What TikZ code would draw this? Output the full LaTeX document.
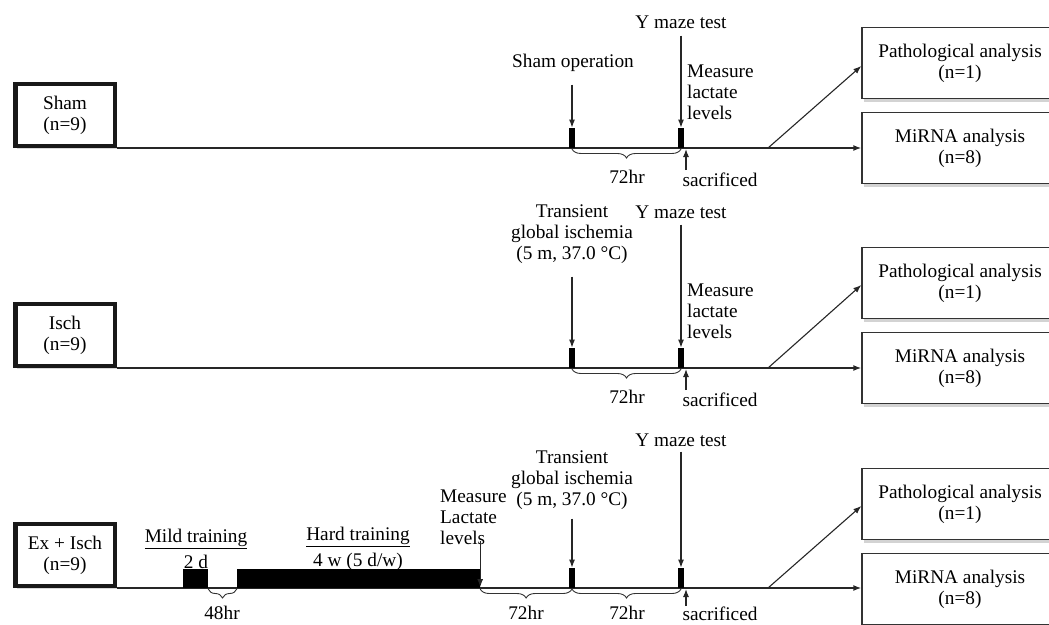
\documentclass[tikz,border=0pt]{standalone}
\usepackage{fontspec}
\setmainfont{Liberation Serif}
\usetikzlibrary{arrows.meta,decorations.pathreplacing,shadows,calc}
\begin{document}
\begin{tikzpicture}[x=1pt,y=-1pt,
  font=\fontsize{19.3}{21}\selectfont,
  grp/.style={draw=black!90, line width=4.5pt, minimum width=99.5pt, minimum height=62pt,
    align=center, fill=white, inner sep=0pt,
    drop shadow={opacity=0.3, shadow xshift=2pt, shadow yshift=-3pt}},
  res/.style={draw=black!80, line width=1.4pt, minimum width=196pt, minimum height=71pt,
    align=center, fill=white, inner sep=0pt,
    drop shadow={opacity=0.35, shadow xshift=2pt, shadow yshift=-3pt}},
  bar/.style={fill=black, inner sep=0pt, minimum width=6pt, minimum height=20pt, anchor=south},
  lbl/.style={inner sep=0pt, align=center},
  lbll/.style={inner sep=0pt, align=left, anchor=west},
  tl/.style={line width=1.4pt, draw=black!85, -{Latex[length=8pt,width=6pt]}},
  arr/.style={line width=1.1pt, draw=black!85, -{Latex[length=8pt,width=6pt]}},
  brc/.style={line width=0.9pt, draw=black!80, decorate, decoration={brace, mirror, amplitude=9pt, raise=1pt}}
]
\useasboundingbox (0,0) rectangle (1049,624);
\clip (0,0) rectangle (1049,624);

% ---------------- Row 1 : Sham ----------------
\node[grp] (sham) at (65,115) {Sham\\(n=9)};
\node[res] (path1) at (960,63) {Pathological analysis\\(n=1)};
\node[res] (mir1) at (960,148) {MiRNA analysis\\(n=8)};
\coordinate (L1) at (117,148);
\coordinate (d1) at (768,148);
\draw[tl] (L1) -- (mir1.west);
\draw[arr] (d1) -- ($(path1.west)+(0,3)$);
\node[bar] (op1) at (572,148) {};
\node[bar] (ym1) at (681,148) {};
\node[lbl] (lop1) at (573,63) {Sham operation};
\node[lbl] (lym1) at (681,22) {Y maze test};
\node[lbll] (lml1) at (687,92) {Measure\\lactate\\levels};
\node[lbl] (sac1) at (720,180) {sacrificed};
\node[lbl] (h1) at (627,177) {72hr};
\draw[arr] ($(op1.north)+(0,-43)$) -- (op1.north);
\draw[arr] ($(ym1.north)+(0,-92)$) -- (ym1.north);
\draw[arr] ($(ym1.south)+(5,22)$) -- ($(ym1.south)+(5,1)$);
\draw[brc] (op1.south) -- (ym1.south);

% ---------------- Row 2 : Isch ----------------
\node[grp] (isch) at (65,335) {Isch\\(n=9)};
\node[res] (path2) at (960,283) {Pathological analysis\\(n=1)};
\node[res] (mir2) at (960,368) {MiRNA analysis\\(n=8)};
\coordinate (L2) at (117,368);
\coordinate (d2) at (768,368);
\draw[tl] (L2) -- (mir2.west);
\draw[arr] (d2) -- ($(path2.west)+(0,2)$);
\node[bar] (tr2) at (572,368) {};
\node[bar] (ym2) at (681,368) {};
\node[lbl] (ltr2) at (572,234) {Transient\\global ischemia\\(5 m, 37.0 °C)};
\node[lbl] (lym2) at (681,212) {Y maze test};
\node[lbll] (lml2) at (687,311) {Measure\\lactate\\levels};
\node[lbl] (sac2) at (720,400) {sacrificed};
\node[lbl] (h2) at (627,397) {72hr};
\draw[arr] ($(tr2.north)+(0,-71)$) -- (tr2.north);
\draw[arr] ($(ym2.north)+(0,-123)$) -- (ym2.north);
\draw[arr] ($(ym2.south)+(5,22)$) -- ($(ym2.south)+(5,1)$);
\draw[brc] (tr2.south) -- (ym2.south);

% ---------------- Row 3 : Ex + Isch ----------------
\node[grp] (exis) at (65,555) {Ex + Isch\\(n=9)};
\node[res] (path3) at (960,504) {Pathological analysis\\(n=1)};
\node[res] (mir3) at (960,589) {MiRNA analysis\\(n=8)};
\coordinate (L3) at (117,588);
\coordinate (d3) at (768,588);
\draw[tl] (L3) -- (L3 -| mir3.west);
\draw[arr] (d3) -- ($(path3.west)+(0,2)$);
\node[bar, minimum width=25pt, minimum height=19pt] (mild) at (195.5,588) {};
\node[bar, minimum width=243pt, minimum height=19pt] (hard) at (358.5,588) {};
\node[bar] (tr3) at (572,588) {};
\node[bar] (ym3) at (681,588) {};
\node[lbl] (lmild) at (196,549) {\underline{Mild training}\\[5pt]2 d};
\node[lbl] (lhard) at (358,549) {\underline{Hard training}\\[5pt]4 w (5 d/w)};
\node[lbll] (lml3) at (440,517) {Measure\\Lactate\\levels};
\node[lbl] (ltr3) at (572,480) {Transient\\global ischemia\\(5 m, 37.0 °C)};
\node[lbl] (lym3) at (681,440) {Y maze test};
\node[lbl] (sac3) at (720,614) {sacrificed};
\node[lbl] (h48) at (222,613) {48hr};
\node[lbl] (h3a) at (526,613) {72hr};
\node[lbl] (h3b) at (627,613) {72hr};
\draw[arr] ($(hard.south east)+(0,-47)$) -- ($(hard.south east)+(0,-1)$);
\draw[arr] ($(tr3.north)+(0,-49)$) -- (tr3.north);
\draw[arr] ($(ym3.north)+(0,-116)$) -- (ym3.north);
\draw[arr] ($(ym3.south)+(5,18)$) -- ($(ym3.south)+(5,1)$);
\draw[brc] (mild.south east) -- (hard.south west);
\draw[brc] (hard.south east) -- (tr3.south);
\draw[brc] (tr3.south) -- (ym3.south);
\end{tikzpicture}
\end{document}
